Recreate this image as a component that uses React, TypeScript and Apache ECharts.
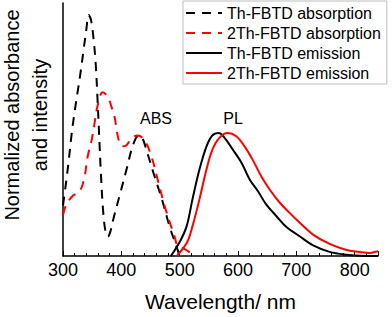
import React, { useEffect, useRef } from "react";
import * as echarts from "echarts";

const FONT = "Liberation Sans, Arial, sans-serif";

// Th-FBTD absorption (black dashed)
const thAbsWl = [300, 305, 310, 315, 320, 325, 330, 335, 340, 344, 348, 352, 356, 359, 362, 365, 369, 373, 377, 381, 387, 397, 409, 420, 430, 436, 443, 457, 469, 483, 493, 500];
const thAbsVal = [0.21, 0.3, 0.4, 0.51, 0.6, 0.68, 0.76, 0.85, 0.94, 1.0, 0.98, 0.91, 0.8, 0.66, 0.5, 0.34, 0.18, 0.1, 0.08, 0.1, 0.16, 0.25, 0.36, 0.46, 0.5, 0.49, 0.44, 0.33, 0.24, 0.12, 0.05, 0];

// 2Th-FBTD absorption (red dashed)
const th2AbsWl = [300, 306, 317, 329, 337, 342, 349, 354, 359, 368, 377, 383, 389, 392, 397, 402, 409, 418, 428, 440, 452, 462, 474, 483, 491, 497, 508, 520];
const th2AbsVal = [0.17, 0.215, 0.25, 0.27, 0.33, 0.41, 0.48, 0.55, 0.62, 0.68, 0.66, 0.62, 0.57, 0.52, 0.47, 0.455, 0.46, 0.49, 0.5, 0.48, 0.41, 0.32, 0.21, 0.14, 0.083, 0.04, 0.03, 0.01];

// Th-FBTD emission (black solid)
const thEmWl = [485, 500, 512, 522, 534, 546, 556, 567, 577, 591, 606, 620, 634, 648, 666, 683, 705, 728, 757, 786, 810, 840];
const thEmVal = [0, 0.058, 0.124, 0.236, 0.36, 0.455, 0.5, 0.51, 0.49, 0.442, 0.387, 0.318, 0.27, 0.215, 0.165, 0.12, 0.083, 0.045, 0.017, 0.005, 0.001, 0];

// 2Th-FBTD emission (red solid)
const th2EmWl = [495, 513, 522, 534, 546, 556, 568, 582, 597, 611, 625, 640, 654, 671, 688, 705, 728, 757, 786, 808, 825, 834, 840];
const th2EmVal = [0, 0.058, 0.124, 0.236, 0.36, 0.44, 0.49, 0.51, 0.497, 0.456, 0.4, 0.33, 0.277, 0.223, 0.18, 0.14, 0.09, 0.05, 0.025, 0.017, 0.012, 0.017, 0.02];

const seriesNames = ["Th-FBTD absorption", "2Th-FBTD absorption", "Th-FBTD emission", "2Th-FBTD emission"];
const xTicks = [300, 400, 500, 600, 700, 800];

const pairs = (xs: number[], ys: number[]) => xs.map((x, i) => [x, ys[i]]);

export default function App() {
  const ref = useRef<HTMLDivElement>(null);
  useEffect(() => {
    if (!ref.current) return;
    const chart = echarts.init(ref.current, null, { renderer: "svg" });
    const mk = (name: string, data: number[][], color: string, dashed: boolean) => ({
      name,
      type: "line",
      data,
      smooth: 0.35,
      symbol: "none",
      lineStyle: { color, width: 2, type: dashed ? [9, 7] : "solid" },
      itemStyle: { color },
    });
    chart.setOption({
      animation: false,
      textStyle: { fontFamily: FONT },
      grid: { left: 63, right: 14, top: 3, bottom: 60 },
      legend: {
        orient: "vertical",
        left: 183,
        top: 1,
        padding: [4, 6, 3, 2],
        itemWidth: 36,
        itemHeight: 14,
        itemGap: 4,
        borderColor: "#bdbdbd",
        borderWidth: 1,
        itemStyle: { opacity: 0, color: "transparent", borderWidth: 0 },
        textStyle: { fontSize: 16, color: "#000", fontFamily: FONT, lineHeight: 14, padding: [0, 0, 0, 0] },
        data: seriesNames,
      },
      xAxis: {
        type: "value",
        min: 300,
        max: 840,
        interval: 100,
        axisLine: { lineStyle: { color: "#000", width: 1.5 } },
        axisTick: { inside: true, length: 5, lineStyle: { color: "#000" } },
        minorTick: { show: true, splitNumber: 5, length: 3, lineStyle: { color: "#000" } },
        splitLine: { show: false },
        axisLabel: {
          color: "#000",
          fontSize: 18,
          fontFamily: FONT,
          margin: 5,
          formatter: (v: number) => (xTicks.indexOf(v) >= 0 ? String(v) : ""),
        },
        name: "Wavelength/ nm",
        nameLocation: "middle",
        nameGap: 35,
        nameTextStyle: { fontSize: 21, color: "#000", fontFamily: FONT },
      },
      yAxis: {
        type: "value",
        min: 0,
        max: 1.05,
        axisLine: { show: true, lineStyle: { color: "#000", width: 1.5 } },
        axisTick: { show: false },
        axisLabel: { show: false },
        splitLine: { show: false },
      },
      graphic: [
        {
          type: "text",
          x: 12,
          y: 115,
          rotation: Math.PI / 2,
          style: { text: "Normalized absorbance", fontSize: 20, fontFamily: FONT, fill: "#000", textAlign: "center", textVerticalAlign: "middle" },
        },
        {
          type: "text",
          x: 40,
          y: 115,
          rotation: Math.PI / 2,
          style: { text: "and intensity", fontSize: 20, fontFamily: FONT, fill: "#000", textAlign: "center", textVerticalAlign: "middle" },
        },
        {
          type: "text",
          x: 156,
          y: 118,
          style: { text: "ABS", fontSize: 16, fontFamily: FONT, fill: "#000", textAlign: "center", textVerticalAlign: "middle" },
        },
        {
          type: "text",
          x: 233,
          y: 118,
          style: { text: "PL", fontSize: 16, fontFamily: FONT, fill: "#000", textAlign: "center", textVerticalAlign: "middle" },
        },
      ],
      series: [
        mk(seriesNames[0], pairs(thAbsWl, thAbsVal), "#000000", true),
        mk(seriesNames[1], pairs(th2AbsWl, th2AbsVal), "#ff0000", true),
        mk(seriesNames[2], pairs(thEmWl, thEmVal), "#000000", false),
        mk(seriesNames[3], pairs(th2EmWl, th2EmVal), "#ff0000", false),
      ],
    });
    return () => chart.dispose();
  }, []);
  return <div ref={ref} style={{ position: "absolute", left: 0, top: 0, width: 392, height: 317 }} />;
}
